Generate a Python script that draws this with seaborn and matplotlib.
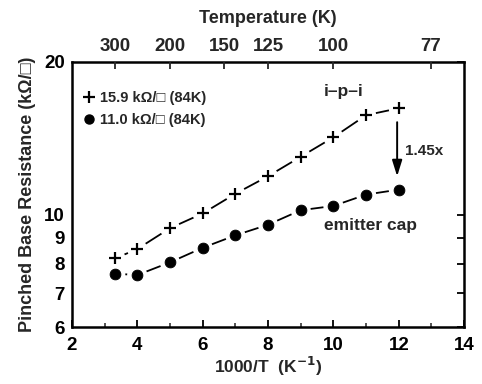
import numpy as np
import pandas as pd
import matplotlib
matplotlib.use("Agg")
import matplotlib.pyplot as plt
import seaborn as sns
from matplotlib.ticker import FixedLocator, NullLocator, NullFormatter
from matplotlib.lines import Line2D

# data
inv_T = [3.33, 4, 5, 6, 7, 8, 9, 10, 11, 12]
ipi = [8.2, 8.55, 9.4, 10.05, 10.99, 11.9, 13.0, 14.2, 15.7, 16.2]
emitter = [7.65, 7.6, 8.05, 8.6, 9.1, 9.55, 10.2, 10.4, 10.95, 11.2]
temp_ticks = [300, 200, 150, 125, 100, 77]
y_ticks = [6, 7, 8, 9, 10, 20]

sns.set_theme(style="white")
plt.rcParams['font.family'] = ['Liberation Sans', 'DejaVu Sans']
plt.rcParams['font.weight'] = 'bold'

fig = plt.figure(figsize=(4.82, 3.84), dpi=100)
ax = fig.add_axes([0.149, 0.148, 0.814, 0.691])

df = pd.DataFrame({"x": inv_T * 2, "y": ipi + emitter,
                   "s": ["ipi"] * len(ipi) + ["em"] * len(emitter)})

for key, mk, ms in [("ipi", "+", 70), ("em", "o", 60)]:
    d = df[df.s == key]
    sns.lineplot(data=d, x="x", y="y", ax=ax, color="black", lw=1.3, sort=False, zorder=2)
    sns.scatterplot(data=d, x="x", y="y", ax=ax, color="white", marker="o", s=210,
                    edgecolor="none", zorder=3)
    if mk == "+":
        sns.scatterplot(data=d, x="x", y="y", ax=ax, color="black", marker="+", s=ms,
                        linewidth=1.6, zorder=4)
    else:
        sns.scatterplot(data=d, x="x", y="y", ax=ax, color="black", marker="o", s=ms,
                        edgecolor="black", zorder=4)

ax.set_yscale("log")
ax.set_xlim(2, 14)
ax.set_ylim(6, 20)
ax.yaxis.set_major_locator(FixedLocator(y_ticks))
ax.set_yticklabels([str(t) for t in y_ticks])
ax.yaxis.set_minor_locator(NullLocator())
ax.yaxis.set_minor_formatter(NullFormatter())
ax.set_xticks([2, 4, 6, 8, 10, 12, 14])
ax.set_xticks([3, 5, 7, 9, 11, 13], minor=True)
ax.tick_params(axis="both", which="major", direction="in", length=5, width=1.3,
               labelsize=13.5, pad=7, colors="black")
ax.tick_params(axis="x", which="minor", direction="in", length=3, width=1.1, bottom=True)
ax.tick_params(axis="y", which="major", right=True, pad=5)
for lbl in ax.get_xticklabels() + ax.get_yticklabels():
    lbl.set_fontweight("bold")

ax.set_xlabel("1000/T  (K$^{-1}$)", fontsize=12.5, fontweight="bold", labelpad=1)
ax.set_ylabel("Pinched Base Resistance (kΩ/□)", fontsize=13, fontweight="bold", labelpad=6)

for sp in ax.spines.values():
    sp.set_linewidth(1.8)
    sp.set_color("black")

top = ax.twiny()
top.set_xlim(ax.get_xlim())
top.set_xticks([1000.0 / t for t in temp_ticks])
top.set_xticklabels([str(t) for t in temp_ticks])
top.tick_params(axis="x", direction="in", length=5, width=1.3, labelsize=13.5, pad=5)
for lbl in top.get_xticklabels():
    lbl.set_fontweight("bold")
top.set_xlabel("Temperature (K)", fontsize=13, fontweight="bold", labelpad=11)
for sp in top.spines.values():
    sp.set_visible(False)

handles = [Line2D([], [], color="black", marker="+", ls="none", ms=8, mew=1.6),
           Line2D([], [], color="black", marker="o", ls="none", ms=6.5)]
leg = ax.legend(handles, ["15.9 kΩ/□ (84K)", "11.0 kΩ/□ (84K)"], loc="upper left",
                bbox_to_anchor=(0.0, 0.94), frameon=False, handlelength=0.6,
                handletextpad=0.4, labelspacing=0.55, prop={"weight": "bold", "size": 10.5})

ax.text(10.3, 17.5, "i–p–i", ha="center", va="center", fontsize=12.5, fontweight="bold")
ax.text(11.15, 9.5, "emitter cap", ha="center", va="center", fontsize=12.5, fontweight="bold")
ax.text(12.2, 13.35, "1.45x", ha="left", va="center", fontsize=11, fontweight="bold")
ax.annotate("", xy=(11.95, 11.75), xytext=(11.95, 15.4),
            arrowprops=dict(arrowstyle="-|>,head_length=0.8,head_width=0.25", color="black", lw=1.4))

fig.savefig("out.png", dpi=100)
